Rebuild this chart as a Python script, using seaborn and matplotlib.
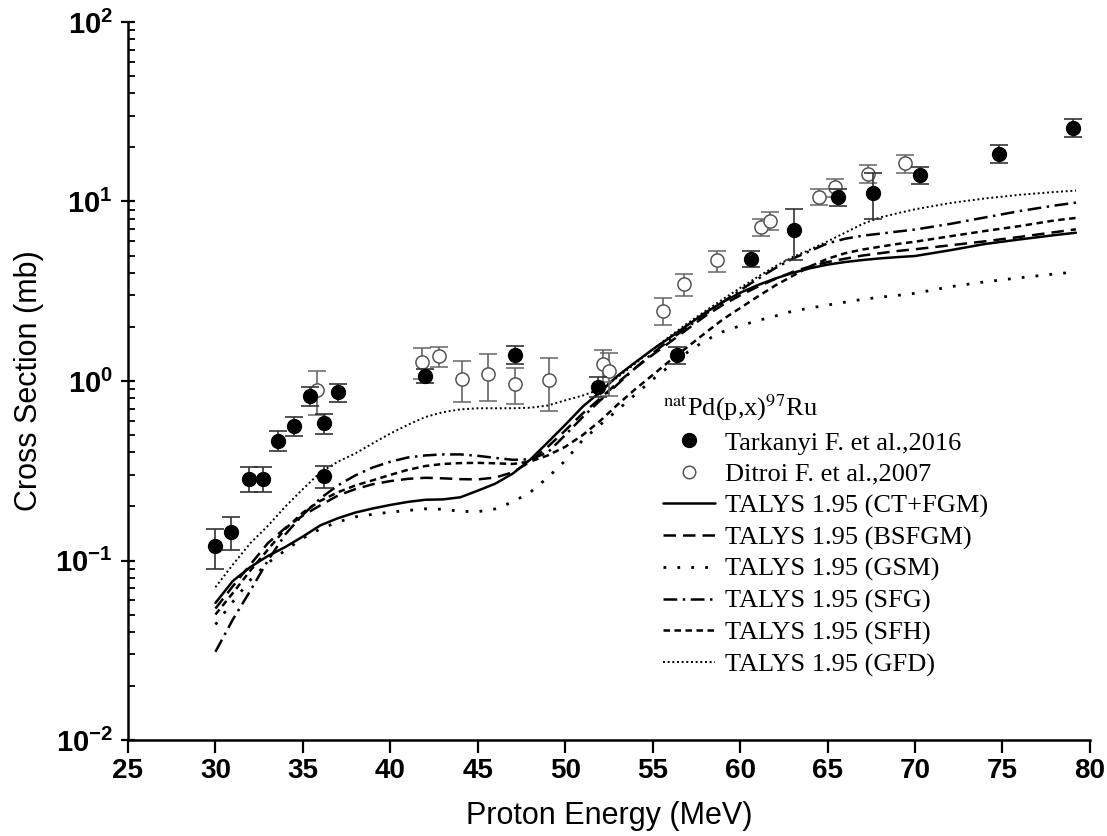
import matplotlib
matplotlib.use("Agg")
import matplotlib.pyplot as plt
from matplotlib.font_manager import FontProperties
from matplotlib.lines import Line2D
import pandas as pd
import seaborn as sns

# Tarkanyi F. et al., 2016 (filled)
tark_e = [30.0, 30.9, 31.9, 32.7, 33.6, 34.5, 35.4, 36.2, 36.2, 37.0, 42.0,
          47.1, 51.9, 56.4, 60.6, 63.1, 65.6, 67.6, 70.3, 74.8, 79.05]
tark_xs = [0.12, 0.144, 0.286, 0.286, 0.466, 0.559, 0.825, 0.58, 0.295, 0.865, 1.07,
           1.40, 0.93, 1.40, 4.8, 6.9, 10.6, 11.2, 14.1, 18.5, 25.8]
tark_err = [0.03, 0.03, 0.045, 0.045, 0.058, 0.068, 0.1, 0.073, 0.04, 0.1, 0.1,
            0.16, 0.12, 0.15, 0.5, 2.2, 1.2, 3.2, 1.55, 2.1, 2.9]

# Ditroi F. et al., 2007 (open)
dit_e = [35.8, 41.8, 42.8, 44.1, 45.6, 47.1, 49.05, 52.15, 52.5, 55.6, 56.8,
         58.7, 61.2, 61.7, 64.5, 65.4, 67.3, 69.4]
dit_xs = [0.89, 1.27, 1.37, 1.03, 1.09, 0.96, 1.01, 1.24, 1.13, 2.47, 3.47,
          4.7, 7.2, 7.8, 10.6, 12.0, 14.3, 16.3]
dit_err = [0.24, 0.25, 0.18, 0.27, 0.32, 0.22, 0.33, 0.25, 0.31, 0.42, 0.48,
           0.63, 0.8, 0.9, 1.1, 1.35, 1.6, 1.85]

# TALYS 1.95 curves
talys_e = [30, 31, 32, 33, 34, 35, 36, 37, 38, 39, 40, 41, 42, 43, 44, 45, 46, 47, 48, 49,
           50, 51, 52, 53, 54, 55, 56, 57, 58, 59, 60, 61, 62, 63, 64, 65, 66, 67, 68, 69,
           70, 72, 74, 76, 78, 79.2]
ct_fgm = [0.058, 0.077, 0.092, 0.106, 0.119, 0.136, 0.157, 0.172, 0.185, 0.195,
          0.204, 0.212, 0.218, 0.219, 0.225, 0.245, 0.268, 0.305, 0.365, 0.455,
          0.57, 0.72, 0.87, 1.07, 1.27, 1.5, 1.75, 2.05, 2.4, 2.75,
          3.1, 3.42, 3.72, 4.0, 4.25, 4.45, 4.6, 4.72, 4.82, 4.9,
          4.97, 5.35, 5.8, 6.15, 6.5, 6.7]
bsfgm = [0.054, 0.072, 0.095, 0.125, 0.152, 0.178, 0.203, 0.23, 0.25, 0.266,
         0.277, 0.285, 0.289, 0.287, 0.284, 0.283, 0.29, 0.31, 0.355, 0.43,
         0.53, 0.66, 0.8, 0.98, 1.18, 1.4, 1.65, 1.95, 2.3, 2.65,
         3.0, 3.35, 3.7, 4.05, 4.35, 4.6, 4.8, 5.0, 5.15, 5.3,
         5.42, 5.7, 6.0, 6.35, 6.75, 7.0]
gsm = [0.044, 0.059, 0.078, 0.097, 0.114, 0.133, 0.15, 0.164, 0.175, 0.181,
       0.186, 0.19, 0.194, 0.193, 0.188, 0.187, 0.194, 0.212, 0.24, 0.29,
       0.36, 0.47, 0.57, 0.69, 0.84, 1.02, 1.22, 1.45, 1.68, 1.88,
       2.03, 2.17, 2.3, 2.45, 2.55, 2.65, 2.75, 2.85, 2.93, 3.0,
       3.08, 3.35, 3.57, 3.76, 3.95, 4.05]
sfg = [0.031, 0.047, 0.068, 0.1, 0.14, 0.18, 0.222, 0.262, 0.298, 0.33,
       0.355, 0.375, 0.385, 0.39, 0.39, 0.383, 0.373, 0.364, 0.366, 0.4,
       0.5, 0.63, 0.78, 0.96, 1.18, 1.43, 1.7, 2.0, 2.35, 2.75,
       3.2, 3.7, 4.25, 4.8, 5.3, 5.85, 6.2, 6.45, 6.62, 6.8,
       6.98, 7.5, 8.15, 8.85, 9.5, 9.85]
sfh = [0.05, 0.066, 0.088, 0.115, 0.15, 0.185, 0.215, 0.24, 0.262, 0.28,
       0.3, 0.32, 0.336, 0.345, 0.349, 0.35, 0.348, 0.345, 0.356, 0.385,
       0.43, 0.5, 0.6, 0.74, 0.9, 1.08, 1.3, 1.55, 1.85, 2.2,
       2.55, 2.95, 3.4, 3.85, 4.35, 4.8, 5.15, 5.4, 5.6, 5.8,
       5.97, 6.4, 6.85, 7.3, 7.85, 8.1]
gfd = [0.071, 0.095, 0.125, 0.156, 0.2, 0.25, 0.31, 0.355, 0.395, 0.45,
       0.51, 0.57, 0.63, 0.67, 0.695, 0.705, 0.705, 0.705, 0.71, 0.73,
       0.78, 0.83, 0.9, 1.05, 1.25, 1.5, 1.78, 2.1, 2.45, 2.85,
       3.3, 3.8, 4.35, 4.9, 5.4, 6.0, 6.7, 7.5, 8.15, 8.6,
       9.05, 9.8, 10.4, 10.9, 11.3, 11.5]

models = ["CT+FGM", "BSFGM", "GSM", "SFG", "SFH", "GFD"]
curves = [ct_fgm, bsfgm, gsm, sfg, sfh, gfd]
line_styles = {
    "CT+FGM": ("-", 1.8),
    "BSFGM": ((0, (5, 2.8)), 1.8),
    "GSM": ((0, (1, 4)), 2.0),
    "SFG": ((0, (5.5, 2.2, 1, 2.2)), 1.8),
    "SFH": ((0, (2.6, 1.8)), 1.8),
    "GFD": ((0, (1, 1.4)), 1.4),
}

sns.set_style("ticks")
plt.rcParams["font.family"] = ["Liberation Sans", "DejaVu Sans"]
plt.rcParams["mathtext.fontset"] = "custom"
plt.rcParams["mathtext.rm"] = "Liberation Sans"
plt.rcParams["mathtext.bf"] = "Liberation Sans:bold"
plt.rcParams["mathtext.it"] = "Liberation Sans:italic"
for key in ["text.color", "axes.labelcolor", "xtick.color", "ytick.color", "axes.edgecolor"]:
    plt.rcParams[key] = "black"

df = pd.DataFrame({
    "energy": talys_e * len(models),
    "xs": [v for c in curves for v in c],
    "model": [m for m in models for _ in talys_e],
})

fig = plt.figure(figsize=(11.07, 8.36), dpi=100)
ax = fig.add_axes([0.1156, 0.1148, 0.869, 0.8589])

handles = []
for m in models:
    ls, lw = line_styles[m]
    sub = df[df["model"] == m]
    sns.lineplot(data=sub, x="energy", y="xs", color="black", linewidth=lw,
                 linestyle=ls, ax=ax, zorder=2)
    handles.append(Line2D([], [], color="black", linewidth=lw, linestyle=ls,
                          label=f"TALYS 1.95 ({m})"))

ax.errorbar(dit_e, dit_xs, yerr=dit_err, fmt="o", ms=9.5, mfc="white", mec="#555555",
            mew=1.1, ecolor="#666666", elinewidth=1.2, capsize=6.5, capthick=1.2, zorder=3)
ax.errorbar(tark_e, tark_xs, yerr=tark_err, fmt="o", ms=10, mfc="black", mec="black",
            ecolor="#333333", elinewidth=1.2, capsize=6.5, capthick=1.2, zorder=4)

ax.set_yscale("log")
ax.set_xlim(25, 80)
ax.set_ylim(1e-2, 1e2)
ax.set_xticks(range(25, 81, 5))
ax.set_xticklabels([str(v) for v in range(25, 81, 5)], fontsize=20, fontweight="bold")
ax.set_yticks([1e-2, 1e-1, 1e0, 1e1, 1e2])
ax.set_yticklabels([r"$\mathbf{10^{-2}}$", r"$\mathbf{10^{-1}}$", r"$\mathbf{10^{0}}$",
                    r"$\mathbf{10^{1}}$", r"$\mathbf{10^{2}}$"], fontsize=21)

ax.set_xlabel("Proton Energy (MeV)", fontsize=22, labelpad=12)
ax.set_ylabel("Cross Section (mb)", fontsize=22, labelpad=8)

for side in ["top", "right"]:
    ax.spines[side].set_visible(False)
for side in ["left", "bottom"]:
    ax.spines[side].set_linewidth(1.8)
ax.tick_params(axis="x", which="major", direction="out", length=9, width=1.6, pad=4)
ax.tick_params(axis="x", which="minor", length=0)
ax.tick_params(axis="y", which="major", direction="inout", length=10, width=1.6, pad=6)
ax.tick_params(axis="y", which="minor", direction="in", length=5, width=1.3)

leg_handles = [
    Line2D([], [], color="black", marker="o", ms=10, linestyle="none",
           label="Tarkanyi F. et al.,2016"),
    Line2D([], [], color="#555555", marker="o", ms=9, mfc="white", mew=1.1,
           linestyle="none", label="Ditroi F. et al.,2007"),
] + handles

title_fp = FontProperties(family="Liberation Serif", size=19, math_fontfamily="stix")
leg = ax.legend(handles=leg_handles, loc="upper left", bbox_to_anchor=(0.589, 0.543),
                bbox_transform=fig.transFigure, frameon=False,
                prop={"family": "Liberation Serif", "size": 19},
                title=r"$^{\mathrm{nat}}$Pd(p,x)$^{97}$Ru", title_fontproperties=title_fp,
                alignment="left", handlelength=2.0, handletextpad=0.35,
                labelspacing=0.3, borderaxespad=0)

fig.savefig("out.png", dpi=100)
plt.close(fig)
